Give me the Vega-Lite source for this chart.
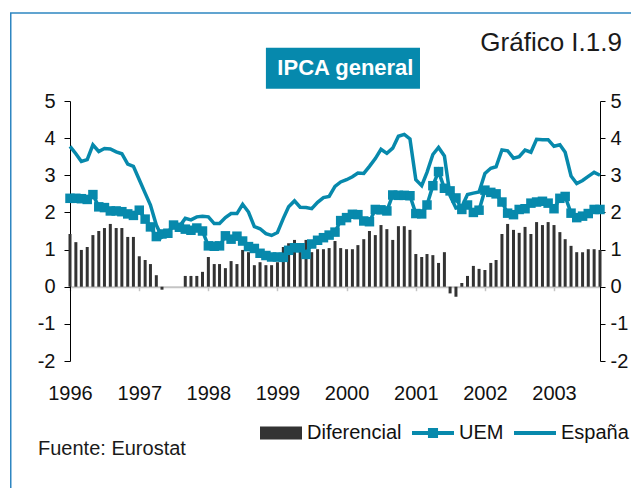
{
  "$schema": "https://vega.github.io/schema/vega-lite/v6.json",
  "width": 530,
  "height": 260,
  "autosize": {"type": "none"},
  "padding": {"left": 70, "top": 101, "right": 31, "bottom": 127},
  "background": "#ffffff",
  "config": {"view": {"stroke": null}, "font": "Liberation Sans"},
  "datasets": {
    "ipca": [
      {"d": "1996-01-01", "esp": 3.78, "uem": 2.38, "dif": 1.42},
      {"d": "1996-02-01", "esp": 3.58, "uem": 2.38, "dif": 1.20},
      {"d": "1996-03-01", "esp": 3.37, "uem": 2.37, "dif": 0.99},
      {"d": "1996-04-01", "esp": 3.42, "uem": 2.35, "dif": 1.07},
      {"d": "1996-05-01", "esp": 3.82, "uem": 2.48, "dif": 1.39},
      {"d": "1996-06-01", "esp": 3.64, "uem": 2.15, "dif": 1.50},
      {"d": "1996-07-01", "esp": 3.72, "uem": 2.13, "dif": 1.58},
      {"d": "1996-08-01", "esp": 3.71, "uem": 2.04, "dif": 1.69},
      {"d": "1996-09-01", "esp": 3.63, "uem": 2.04, "dif": 1.58},
      {"d": "1996-10-01", "esp": 3.58, "uem": 2.02, "dif": 1.58},
      {"d": "1996-11-01", "esp": 3.30, "uem": 1.96, "dif": 1.34},
      {"d": "1996-12-01", "esp": 3.24, "uem": 1.92, "dif": 1.34},
      {"d": "1997-01-01", "esp": 2.88, "uem": 2.06, "dif": 0.82},
      {"d": "1997-02-01", "esp": 2.52, "uem": 1.82, "dif": 0.72},
      {"d": "1997-03-01", "esp": 2.20, "uem": 1.61, "dif": 0.61},
      {"d": "1997-04-01", "esp": 1.66, "uem": 1.35, "dif": 0.31},
      {"d": "1997-05-01", "esp": 1.34, "uem": 1.42, "dif": -0.08},
      {"d": "1997-06-01", "esp": 1.46, "uem": 1.44, "dif": 0},
      {"d": "1997-07-01", "esp": 1.66, "uem": 1.66, "dif": 0},
      {"d": "1997-08-01", "esp": 1.62, "uem": 1.60, "dif": 0},
      {"d": "1997-09-01", "esp": 1.84, "uem": 1.55, "dif": 0.29},
      {"d": "1997-10-01", "esp": 1.80, "uem": 1.52, "dif": 0.29},
      {"d": "1997-11-01", "esp": 1.88, "uem": 1.58, "dif": 0.29},
      {"d": "1997-12-01", "esp": 1.90, "uem": 1.50, "dif": 0.40},
      {"d": "1998-01-01", "esp": 1.88, "uem": 1.10, "dif": 0.80},
      {"d": "1998-02-01", "esp": 1.70, "uem": 1.09, "dif": 0.61},
      {"d": "1998-03-01", "esp": 1.70, "uem": 1.10, "dif": 0.61},
      {"d": "1998-04-01", "esp": 1.86, "uem": 1.37, "dif": 0.50},
      {"d": "1998-05-01", "esp": 1.97, "uem": 1.28, "dif": 0.69},
      {"d": "1998-06-01", "esp": 1.97, "uem": 1.36, "dif": 0.61},
      {"d": "1998-07-01", "esp": 2.22, "uem": 1.23, "dif": 0.99},
      {"d": "1998-08-01", "esp": 2.01, "uem": 1.08, "dif": 0.93},
      {"d": "1998-09-01", "esp": 1.62, "uem": 1.03, "dif": 0.58},
      {"d": "1998-10-01", "esp": 1.56, "uem": 0.90, "dif": 0.66},
      {"d": "1998-11-01", "esp": 1.43, "uem": 0.84, "dif": 0.58},
      {"d": "1998-12-01", "esp": 1.38, "uem": 0.80, "dif": 0.58},
      {"d": "1999-01-01", "esp": 1.46, "uem": 0.80, "dif": 0.66},
      {"d": "1999-02-01", "esp": 1.84, "uem": 0.79, "dif": 1.07},
      {"d": "1999-03-01", "esp": 2.15, "uem": 0.98, "dif": 1.17},
      {"d": "1999-04-01", "esp": 2.31, "uem": 1.05, "dif": 1.26},
      {"d": "1999-05-01", "esp": 2.14, "uem": 1.05, "dif": 1.09},
      {"d": "1999-06-01", "esp": 2.13, "uem": 0.87, "dif": 1.26},
      {"d": "1999-07-01", "esp": 2.10, "uem": 1.15, "dif": 0.93},
      {"d": "1999-08-01", "esp": 2.27, "uem": 1.25, "dif": 1.01},
      {"d": "1999-09-01", "esp": 2.40, "uem": 1.32, "dif": 1.01},
      {"d": "1999-10-01", "esp": 2.43, "uem": 1.39, "dif": 1.04},
      {"d": "1999-11-01", "esp": 2.70, "uem": 1.47, "dif": 1.23},
      {"d": "1999-12-01", "esp": 2.82, "uem": 1.78, "dif": 1.04},
      {"d": "2000-01-01", "esp": 2.88, "uem": 1.86, "dif": 1.01},
      {"d": "2000-02-01", "esp": 2.96, "uem": 1.95, "dif": 1.01},
      {"d": "2000-03-01", "esp": 3.06, "uem": 1.94, "dif": 1.12},
      {"d": "2000-04-01", "esp": 3.05, "uem": 1.77, "dif": 1.28},
      {"d": "2000-05-01", "esp": 3.24, "uem": 1.75, "dif": 1.50},
      {"d": "2000-06-01", "esp": 3.45, "uem": 2.08, "dif": 1.39},
      {"d": "2000-07-01", "esp": 3.70, "uem": 2.07, "dif": 1.66},
      {"d": "2000-08-01", "esp": 3.59, "uem": 2.04, "dif": 1.55},
      {"d": "2000-09-01", "esp": 3.73, "uem": 2.47, "dif": 1.26},
      {"d": "2000-10-01", "esp": 4.05, "uem": 2.46, "dif": 1.63},
      {"d": "2000-11-01", "esp": 4.10, "uem": 2.46, "dif": 1.63},
      {"d": "2000-12-01", "esp": 3.98, "uem": 2.45, "dif": 1.53},
      {"d": "2001-01-01", "esp": 2.88, "uem": 1.97, "dif": 0.88},
      {"d": "2001-02-01", "esp": 2.72, "uem": 1.96, "dif": 0.80},
      {"d": "2001-03-01", "esp": 3.08, "uem": 2.20, "dif": 0.88},
      {"d": "2001-04-01", "esp": 3.56, "uem": 2.72, "dif": 0.85},
      {"d": "2001-05-01", "esp": 3.75, "uem": 3.10, "dif": 0.64},
      {"d": "2001-06-01", "esp": 3.52, "uem": 2.65, "dif": 0.93},
      {"d": "2001-07-01", "esp": 2.45, "uem": 2.58, "dif": -0.18},
      {"d": "2001-08-01", "esp": 2.12, "uem": 2.39, "dif": -0.27},
      {"d": "2001-09-01", "esp": 2.15, "uem": 2.08, "dif": 0.10},
      {"d": "2001-10-01", "esp": 2.48, "uem": 2.20, "dif": 0.29},
      {"d": "2001-11-01", "esp": 2.52, "uem": 2.00, "dif": 0.56},
      {"d": "2001-12-01", "esp": 2.55, "uem": 2.06, "dif": 0.48},
      {"d": "2002-01-01", "esp": 3.05, "uem": 2.60, "dif": 0.45},
      {"d": "2002-02-01", "esp": 3.19, "uem": 2.54, "dif": 0.64},
      {"d": "2002-03-01", "esp": 3.23, "uem": 2.50, "dif": 0.72},
      {"d": "2002-04-01", "esp": 3.68, "uem": 2.28, "dif": 1.42},
      {"d": "2002-05-01", "esp": 3.66, "uem": 1.98, "dif": 1.69},
      {"d": "2002-06-01", "esp": 3.46, "uem": 1.94, "dif": 1.53},
      {"d": "2002-07-01", "esp": 3.50, "uem": 2.08, "dif": 1.45},
      {"d": "2002-08-01", "esp": 3.68, "uem": 2.10, "dif": 1.61},
      {"d": "2002-09-01", "esp": 3.62, "uem": 2.25, "dif": 1.42},
      {"d": "2002-10-01", "esp": 3.97, "uem": 2.28, "dif": 1.74},
      {"d": "2002-11-01", "esp": 3.96, "uem": 2.30, "dif": 1.66},
      {"d": "2002-12-01", "esp": 3.96, "uem": 2.25, "dif": 1.74},
      {"d": "2003-01-01", "esp": 3.78, "uem": 2.10, "dif": 1.66},
      {"d": "2003-02-01", "esp": 3.82, "uem": 2.38, "dif": 1.47},
      {"d": "2003-03-01", "esp": 3.62, "uem": 2.43, "dif": 1.28},
      {"d": "2003-04-01", "esp": 2.98, "uem": 1.98, "dif": 1.10},
      {"d": "2003-05-01", "esp": 2.78, "uem": 1.86, "dif": 0.93},
      {"d": "2003-06-01", "esp": 2.86, "uem": 1.90, "dif": 0.93},
      {"d": "2003-07-01", "esp": 2.97, "uem": 1.97, "dif": 1.01},
      {"d": "2003-08-01", "esp": 3.08, "uem": 2.08, "dif": 1.01},
      {"d": "2003-09-01", "esp": 3.00, "uem": 2.08, "dif": 0.99}
    ],
    "series": [{"s": "Diferencial"}, {"s": "UEM"}, {"s": "España"}]
  },
  "layer": [
    {
      "data": {"values": [{}]},
      "mark": {"type": "rect", "fillOpacity": 0, "stroke": "#2E86C1", "strokeWidth": 1.5, "clip": false},
      "encoding": {
        "x": {"datum": {"year": 1995, "month": "feb", "date": 22, "utc": true}, "type": "temporal", "axis": null, "scale": {"type": "utc", "padding": 0, "domain": [{"year": 1996, "month": "jan", "date": 1, "utc": true}, {"year": 2003, "month": "sep", "date": 1, "utc": true}]}},
        "x2": {"datum": {"year": 2004, "month": "dec", "date": 1, "utc": true}},
        "y": {"datum": 7.37, "type": "quantitative", "axis": null, "scale": {"domain": [-2, 5], "nice": false, "zero": false, "padding": 0}},
        "y2": {"datum": -8}
      }
    },
    {
      "data": {"values": [{}]},
      "mark": {"type": "rect", "fill": "#0689AD", "clip": false},
      "encoding": {
        "x": {"datum": {"year": 1998, "month": "nov", "date": 1, "utc": true}, "type": "temporal", "axis": null},
        "x2": {"datum": {"year": 2001, "month": "jan", "date": 23, "utc": true}},
        "y": {"datum": 6.435, "type": "quantitative", "axis": null},
        "y2": {"datum": 5.331}
      }
    },
    {
      "data": {"values": [{}]},
      "mark": {"type": "text", "text": "IPCA general", "font": "Liberation Sans", "fontSize": 22, "fontWeight": "bold", "color": "#ffffff", "align": "center", "baseline": "alphabetic", "clip": false},
      "encoding": {
        "x": {"datum": {"year": 1999, "month": "dec", "date": 26, "utc": true}, "type": "temporal", "axis": null},
        "y": {"datum": 5.70, "type": "quantitative", "axis": null}
      }
    },
    {
      "data": {"values": [{}]},
      "mark": {"type": "text", "text": "Gráfico I.1.9", "font": "Liberation Sans", "fontSize": 26, "fontWeight": "normal", "color": "#1a1a1a", "align": "right", "baseline": "alphabetic", "clip": false},
      "encoding": {
        "x": {"datum": {"year": 2003, "month": "dec", "date": 26, "utc": true}, "type": "temporal", "axis": null},
        "y": {"datum": 6.335, "type": "quantitative", "axis": null}
      }
    },
    {
      "data": {"values": [{}]},
      "mark": {"type": "text", "text": "Fuente: Eurostat", "font": "Liberation Sans", "fontSize": 20, "fontWeight": "normal", "color": "#1a1a1a", "align": "left", "baseline": "alphabetic", "clip": false},
      "encoding": {
        "x": {"datum": {"year": 1995, "month": "jul", "date": 16, "utc": true}, "type": "temporal", "axis": null},
        "y": {"datum": -4.52, "type": "quantitative", "axis": null}
      }
    },
    {
      "data": {"name": "ipca"},
      "mark": {"type": "bar", "color": "#333333", "width": 3, "clip": false},
      "encoding": {
        "x": {
          "field": "d", "type": "temporal",
          "axis": {
            "orient": "bottom", "title": null, "format": "%Y",
            "values": [
              {"year": 1996, "month": "jan", "date": 1, "utc": true},
              {"year": 1997, "month": "jan", "date": 1, "utc": true},
              {"year": 1998, "month": "jan", "date": 1, "utc": true},
              {"year": 1999, "month": "jan", "date": 1, "utc": true},
              {"year": 2000, "month": "jan", "date": 1, "utc": true},
              {"year": 2001, "month": "jan", "date": 1, "utc": true},
              {"year": 2002, "month": "jan", "date": 1, "utc": true},
              {"year": 2003, "month": "jan", "date": 1, "utc": true}
            ],
            "grid": false, "domain": false, "ticks": false,
            "labelPadding": 22, "labelFont": "Liberation Sans", "labelFontSize": 20, "labelColor": "#111111", "labelFlush": false, "labelOverlap": false
          }
        },
        "y": {
          "field": "dif", "type": "quantitative",
          "axis": {
            "orient": "left", "title": null, "values": [-2, -1, 0, 1, 2, 3, 4, 5], "grid": false,
            "labelExpr": "datum.value < 0 ? '-' + abs(datum.value) : '' + datum.value",
            "domainColor": "#000000", "domainWidth": 1, "tickColor": "#000000", "tickSize": 6, "tickWidth": 1,
            "labelPadding": 9, "labelFont": "Liberation Sans", "labelFontSize": 20, "labelColor": "#111111"
          }
        }
      }
    },
    {
      "data": {"name": "ipca"},
      "mark": {"type": "line", "color": "#0789AC", "strokeWidth": 3.5, "clip": false},
      "encoding": {
        "x": {
          "field": "d", "type": "temporal",
          "axis": {
            "orient": "bottom", "offset": -74.3, "title": null, "labels": false,
            "values": [
              {"year": 1996, "month": "jan", "date": 1, "utc": true},
              {"year": 1997, "month": "jan", "date": 1, "utc": true},
              {"year": 1998, "month": "jan", "date": 1, "utc": true},
              {"year": 1999, "month": "jan", "date": 1, "utc": true},
              {"year": 2000, "month": "jan", "date": 1, "utc": true},
              {"year": 2001, "month": "jan", "date": 1, "utc": true},
              {"year": 2002, "month": "jan", "date": 1, "utc": true},
              {"year": 2003, "month": "jan", "date": 1, "utc": true}
            ],
            "grid": false, "domainColor": "#c4c4c4", "domainWidth": 2, "tickColor": "#c4c4c4", "tickWidth": 1.5, "tickSize": 4,
            "zindex": 0
          }
        },
        "y": {
          "field": "esp", "type": "quantitative",
          "axis": {
            "orient": "right", "title": null, "values": [-2, -1, 0, 1, 2, 3, 4, 5], "grid": false,
            "labelExpr": "datum.value < 0 ? '-' + abs(datum.value) : '' + datum.value",
            "domainColor": "#000000", "domainWidth": 1, "tickColor": "#000000", "tickSize": 5, "tickWidth": 1,
            "labelPadding": 5, "labelFont": "Liberation Sans", "labelFontSize": 20, "labelColor": "#111111"
          }
        }
      }
    },
    {
      "data": {"name": "ipca"},
      "mark": {"type": "line", "color": "#0789AC", "strokeWidth": 3.5, "clip": false, "point": {"filled": true, "shape": "square", "size": 90, "color": "#0789AC"}},
      "encoding": {
        "x": {"field": "d", "type": "temporal", "axis": null},
        "y": {"field": "uem", "type": "quantitative", "axis": null}
      }
    },
    {
      "data": {"name": "series"},
      "transform": [{"filter": "false"}],
      "mark": {"type": "point", "filled": true, "opacity": 1},
      "encoding": {
        "color": {
          "field": "s", "type": "nominal",
          "scale": {"domain": ["Diferencial", "UEM", "España"], "range": ["#333333", "#0789AC", "#0789AC"]},
          "legend": {
            "orient": "none", "legendX": 190, "legendY": 311, "direction": "horizontal", "title": null,
            "symbolSize": 1764, "symbolOpacity": 1, "symbolStrokeWidth": 0,
            "labelFont": "Liberation Sans", "labelFontSize": 20, "labelColor": "#111111", "labelOffset": 5,
            "columnPadding": 10, "padding": 0
          }
        },
        "shape": {
          "field": "s", "type": "nominal",
          "scale": {"domain": ["Diferencial", "UEM", "España"], "range": [
            "M-1,-0.31H1V0.31H-1Z",
            "M-1,-0.09H-0.24V-0.24H0.24V-0.09H1V0.09H0.24V0.24H-0.24V0.09H-1Z",
            "M-1,-0.09H1V0.09H-1Z"
          ]}
        }
      }
    }
  ],
  "resolve": {"axis": {"x": "independent", "y": "independent"}}
}
